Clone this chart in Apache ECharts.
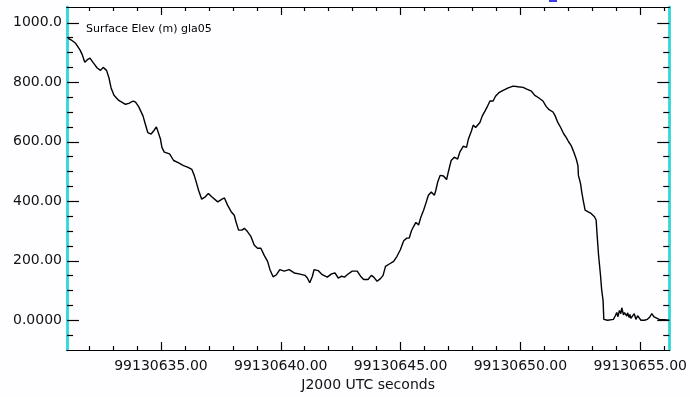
<!DOCTYPE html>
<html>
<head>
<meta charset="utf-8">
<script src="https://cdn.jsdelivr.net/npm/echarts@6/dist/echarts.min.js"></script>
<style>
html,body{margin:0;padding:0;background:#fefdff;}
#chart{width:690px;height:397px;}
</style>
</head>
<body>
<div id="chart"></div>
<script>
// Time base (J2000 UTC seconds); secs are offsets from it
const T0 = 99130630;
const secs = [1.12,1.26,1.44,1.62,1.72,1.82,1.93,2.04,2.18,2.34,2.48,2.59,2.73,2.83,2.92,3.04,3.24,3.52,3.66,3.84,3.94,4.07,4.25,4.35,4.45,4.59,4.70,4.81,4.88,4.98,5.04,5.14,5.36,5.53,5.74,5.94,6.11,6.29,6.39,6.47,6.57,6.70,6.85,6.98,7.12,7.37,7.55,7.65,7.78,7.93,8.06,8.13,8.24,8.38,8.48,8.61,8.76,8.89,9.03,9.17,9.31,9.45,9.55,9.68,9.82,9.96,10.14,10.35,10.56,10.76,11.01,11.11,11.21,11.32,11.39,11.56,11.73,11.94,12.12,12.26,12.40,12.54,12.67,12.77,12.84,12.98,13.19,13.33,13.46,13.64,13.78,13.88,14.02,14.16,14.27,14.37,14.53,14.71,14.85,14.99,15.13,15.26,15.36,15.45,15.54,15.64,15.75,15.84,15.96,16.05,16.16,16.28,16.41,16.47,16.55,16.65,16.79,16.92,16.99,17.11,17.24,17.38,17.48,17.62,17.75,17.83,17.96,18.03,18.13,18.21,18.31,18.41,18.52,18.63,18.73,18.86,18.96,19.10,19.28,19.49,19.70,19.90,20.11,20.29,20.46,20.60,20.76,20.94,21.08,21.18,21.36,21.45,21.56,21.68,21.81,21.91,22.01,22.12,22.23,22.33,22.40,22.42,22.51,22.56,22.62,22.70,22.81,22.95,23.09,23.16,23.20,23.26,23.34,23.39,23.45,23.48,23.64,23.88,23.96,24.02,24.07,24.13,24.19,24.23,24.27,24.30,24.34,24.40,24.44,24.47,24.54,24.57,24.61,24.68,24.75,24.82,24.89,25.03,25.17,25.30,25.40,25.48,25.58,25.79,26.00,26.21];
const elev = [948,942,931,909,892,867,876,881,865,848,840,850,840,815,781,756,739,726,729,737,733,718,687,659,631,626,637,650,648,609,581,565,559,537,529,520,515,507,487,465,437,407,415,426,415,398,407,411,387,365,353,331,303,303,309,298,281,253,242,242,218,198,170,146,153,170,165,170,159,156,151,142,126,148,170,167,153,145,156,159,142,148,145,153,153,165,165,148,137,137,151,145,131,140,151,181,189,198,215,237,267,276,276,300,315,329,320,345,370,392,420,431,420,437,465,487,485,473,498,537,548,542,567,585,581,609,637,656,648,642,665,687,703,720,737,737,753,765,773,781,787,785,783,776,770,756,748,737,718,709,700,687,665,648,626,615,600,587,565,542,520,487,459,431,403,370,365,359,348,337,287,220,153,103,65,3,0,3,15,26,12,33,22,42,37,18,26,31,14,25,9,20,6,3,22,3,15,0,0,3,11,22,11,3,2,0,0];

const xLabelValues = [99130635, 99130640, 99130645, 99130650, 99130655];
const xMinorValues = [99130632,99130633,99130634,99130636,99130637,99130638,99130639,99130641,99130642,99130643,99130644,99130646,99130647,99130648,99130649,99130651,99130652,99130653,99130654,99130656];
const yLabelValues = [0, 200, 400, 600, 800, 1000];
const yLabelTexts = ['0.0000', '200.00', '400.00', '600.00', '800.00', '1000.0'];
const yMinorValues = [-50,50,100,150,250,300,350,450,500,550,650,700,750,850,900,950];

const X_MIN = T0 + 1.08, X_MAX = T0 + 26.21;
const Y_MIN = -100, Y_MAX = 1053;
const FONT = 'DejaVu Sans';
const CYAN = '#35d8d8';

const data = secs.map((s, i) => [T0 + s, elev[i]]);

function xAx(pos, major, withLabel, lineColor) {
  return {
    type: 'value', position: pos, min: X_MIN, max: X_MAX, scale: true,
    axisLine: { show: true, onZero: false, lineStyle: { color: lineColor, width: 1.2 } },
    axisTick: { show: true, inside: true, length: major ? 8 : 4, customValues: major ? xLabelValues : xMinorValues,
      lineStyle: { color: '#000', width: 1.2 } },
    axisLabel: withLabel ? { show: true, customValues: xLabelValues, margin: 9, color: '#111',
      fontFamily: FONT, fontSize: 14, formatter: v => v.toFixed(2) } : { show: false },
    splitLine: { show: false },
    name: withLabel ? 'J2000 UTC seconds' : '',
    nameLocation: 'middle', nameGap: 28,
    nameTextStyle: { color: '#111', fontFamily: FONT, fontSize: 14 }
  };
}
function yAx(pos, major, withLabel, showLine) {
  return {
    type: 'value', position: pos, min: Y_MIN, max: Y_MAX,
    axisLine: { show: showLine, onZero: false, lineStyle: { color: CYAN, width: 2.5 } },
    axisTick: { show: true, inside: true, length: major ? 12 : 6, customValues: major ? yLabelValues : yMinorValues,
      lineStyle: { color: '#000', width: 1.2 } },
    axisLabel: withLabel ? { show: true, customValues: yLabelValues, margin: 5, color: '#111',
      fontFamily: FONT, fontSize: 14,
      formatter: v => yLabelTexts[yLabelValues.indexOf(v)] } : { show: false },
    splitLine: { show: false }
  };
}

const chart = echarts.init(document.getElementById('chart'), null, { renderer: 'canvas' });
chart.setOption({
  animation: false,
  backgroundColor: '#fefdff',
  grid: { left: 67, right: 18, top: 7, bottom: 44, containLabel: false },
  xAxis: [
    xAx('bottom', true, true, '#000'),
    xAx('bottom', false, false, '#000'),
    xAx('top', true, false, '#000'),
    xAx('top', false, false, '#000')
  ],
  yAxis: [
    yAx('left', true, true, true),
    yAx('left', false, false, true),
    yAx('right', true, false, true),
    yAx('right', false, false, true)
  ],
  graphic: [
    { type: 'text', left: 86, top: 24, style: { text: 'Surface Elev (m) gla05', fill: '#000', font: '11px "DejaVu Sans"' } },
    { type: 'rect', shape: { x: 549, y: 0, width: 8, height: 2 }, style: { fill: '#3b3be6' } }
  ],
  series: [{
    type: 'line', xAxisIndex: 0, yAxisIndex: 0, data: data,
    showSymbol: false, symbol: 'none', smooth: false,
    lineStyle: { color: '#000', width: 1.4 }
  }]
});
</script>
</body>
</html>
